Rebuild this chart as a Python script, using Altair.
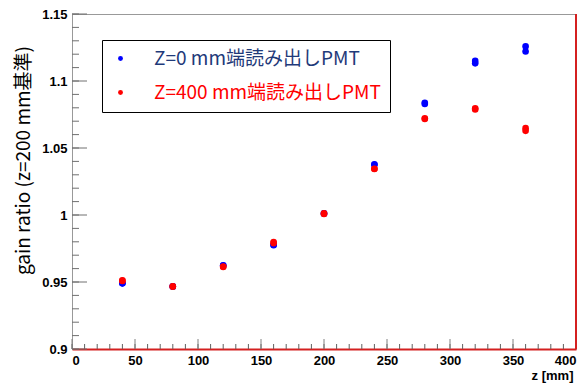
import altair as alt
import pandas as pd

# data
series_names = ["Z=0 mm端読み出しPMT", "Z=400 mm端読み出しPMT"]
z0_pos = [40, 40, 80, 80, 120, 120, 160, 160, 200, 200, 240, 240, 280, 280, 320, 320, 360, 360]
z0_gain = [0.949, 0.949, 0.9465, 0.9468, 0.9625, 0.9622, 0.9775, 0.9778, 1.0010, 1.0012,
           1.0378, 1.0375, 1.0828, 1.0838, 1.1132, 1.1150, 1.1220, 1.1258]
z400_pos = [40, 40, 80, 80, 120, 120, 160, 160, 200, 200, 240, 240, 280, 280, 320, 320, 360, 360]
z400_gain = [0.9512, 0.9508, 0.9465, 0.9468, 0.9612, 0.9616, 0.9790, 0.9798, 1.0008, 1.0012,
             1.0343, 1.0345, 1.0716, 1.0722, 1.0788, 1.0796, 1.0628, 1.0648]

x_major_ticks = [0, 50, 100, 150, 200, 250, 300, 350, 400]
x_minor_ticks = list(range(0, 401, 10))
y_major_ticks = [0.9, 0.95, 1.0, 1.05, 1.1, 1.15]
y_minor_ticks = [round(0.9 + 0.01 * i, 2) for i in range(26)]

W, H = 504, 335

df = pd.DataFrame({
    "z": z0_pos + z400_pos,
    "gain": z0_gain + z400_gain,
    "series": [series_names[0]] * len(z0_pos) + [series_names[1]] * len(z400_pos),
})

xscale = alt.Scale(domain=[0, 400], nice=False, zero=False)
yscale = alt.Scale(domain=[0.9, 1.15], nice=False, zero=False)

label_font = "Liberation Sans"
cjk_font = "Noto Sans CJK JP"

points = alt.Chart(df).mark_circle(size=44, opacity=1).encode(
    x=alt.X("z:Q", scale=xscale,
            axis=alt.Axis(values=x_major_ticks, ticks=False, grid=False, title="z [mm]",
                          labelPadding=5, labelFont=label_font, labelFontWeight="bold",
                          labelFontSize=13, labelColor="black",
                          domainColor="#d42020", domainWidth=2,
                          titleFont=label_font, titleFontWeight="bold", titleFontSize=13,
                          titleColor="black",
                          titleAnchor="end", titleAlign="right", titleX=W - 3, titleY=20,
                          titleBaseline="top")),
    y=alt.Y("gain:Q", scale=yscale,
            axis=alt.Axis(values=y_major_ticks, ticks=False, grid=False,
                          title="gain ratio (z=200 mm基準)", format=".2~f",
                          labelPadding=5, labelFont=label_font, labelFontWeight="bold",
                          labelFontSize=13, labelColor="black",
                          domainColor="#999999", domainWidth=1,
                          titleFont=cjk_font, titleFontWeight="normal", titleFontSize=19,
                          titleColor="black", titleAngle=270,
                          titleX=-49, titleY=146, titleAlign="center", titleBaseline="middle")),
    color=alt.Color("series:N",
                    scale=alt.Scale(domain=series_names, range=["#0000ff", "#ff0000"]),
                    legend=alt.Legend(title=None, orient="none", legendX=30, legendY=26,
                                      symbolType="circle", symbolSize=24, symbolStrokeWidth=0,
                                      labelFont=cjk_font, labelFontSize=19, labelLimit=400,
                                      labelOffset=24, rowPadding=14, padding=9,
                                      strokeColor="black", fillColor="white",
                                      labelColor=alt.ExprRef(
                                          "datum.value == 'Z=0 mm端読み出しPMT' ? '#1f3a7a' : '#ff0000'"))),
    order=alt.Order("series:N"),
)

xmaj = alt.Chart(pd.DataFrame({"t": x_major_ticks})).mark_rule(color="#808080", strokeWidth=1).encode(
    x=alt.X("t:Q", scale=xscale), y=alt.value(H), y2=alt.value(H - 10))
xmin = alt.Chart(pd.DataFrame({"t": x_minor_ticks})).mark_rule(color="#606060", strokeWidth=1).encode(
    x=alt.X("t:Q", scale=xscale), y=alt.value(H), y2=alt.value(H - 5))
ymaj = alt.Chart(pd.DataFrame({"t": y_major_ticks})).mark_rule(color="#707070", strokeWidth=1).encode(
    y=alt.Y("t:Q", scale=yscale), x=alt.value(0), x2=alt.value(15))
ymin = alt.Chart(pd.DataFrame({"t": y_minor_ticks})).mark_rule(color="#707070", strokeWidth=1).encode(
    y=alt.Y("t:Q", scale=yscale), x=alt.value(0), x2=alt.value(7))
right_edge = alt.Chart(pd.DataFrame({"t": [400]})).mark_rule(color="#d42020", strokeWidth=2).encode(
    x=alt.X("t:Q", scale=xscale), y=alt.value(0), y2=alt.value(H))

chart = alt.layer(xmin, xmaj, ymin, ymaj, right_edge, points).properties(
    width=W, height=H,
    autosize=alt.AutoSizeParams(type="none"),
    padding={"left": 64, "top": 6, "right": 4, "bottom": 34},
    background="white",
).configure_view(stroke="#999999", strokeWidth=1).configure_axis(labelOverlap=False)

chart.save("out.html", embed_options={"renderer": "svg", "actions": False})
